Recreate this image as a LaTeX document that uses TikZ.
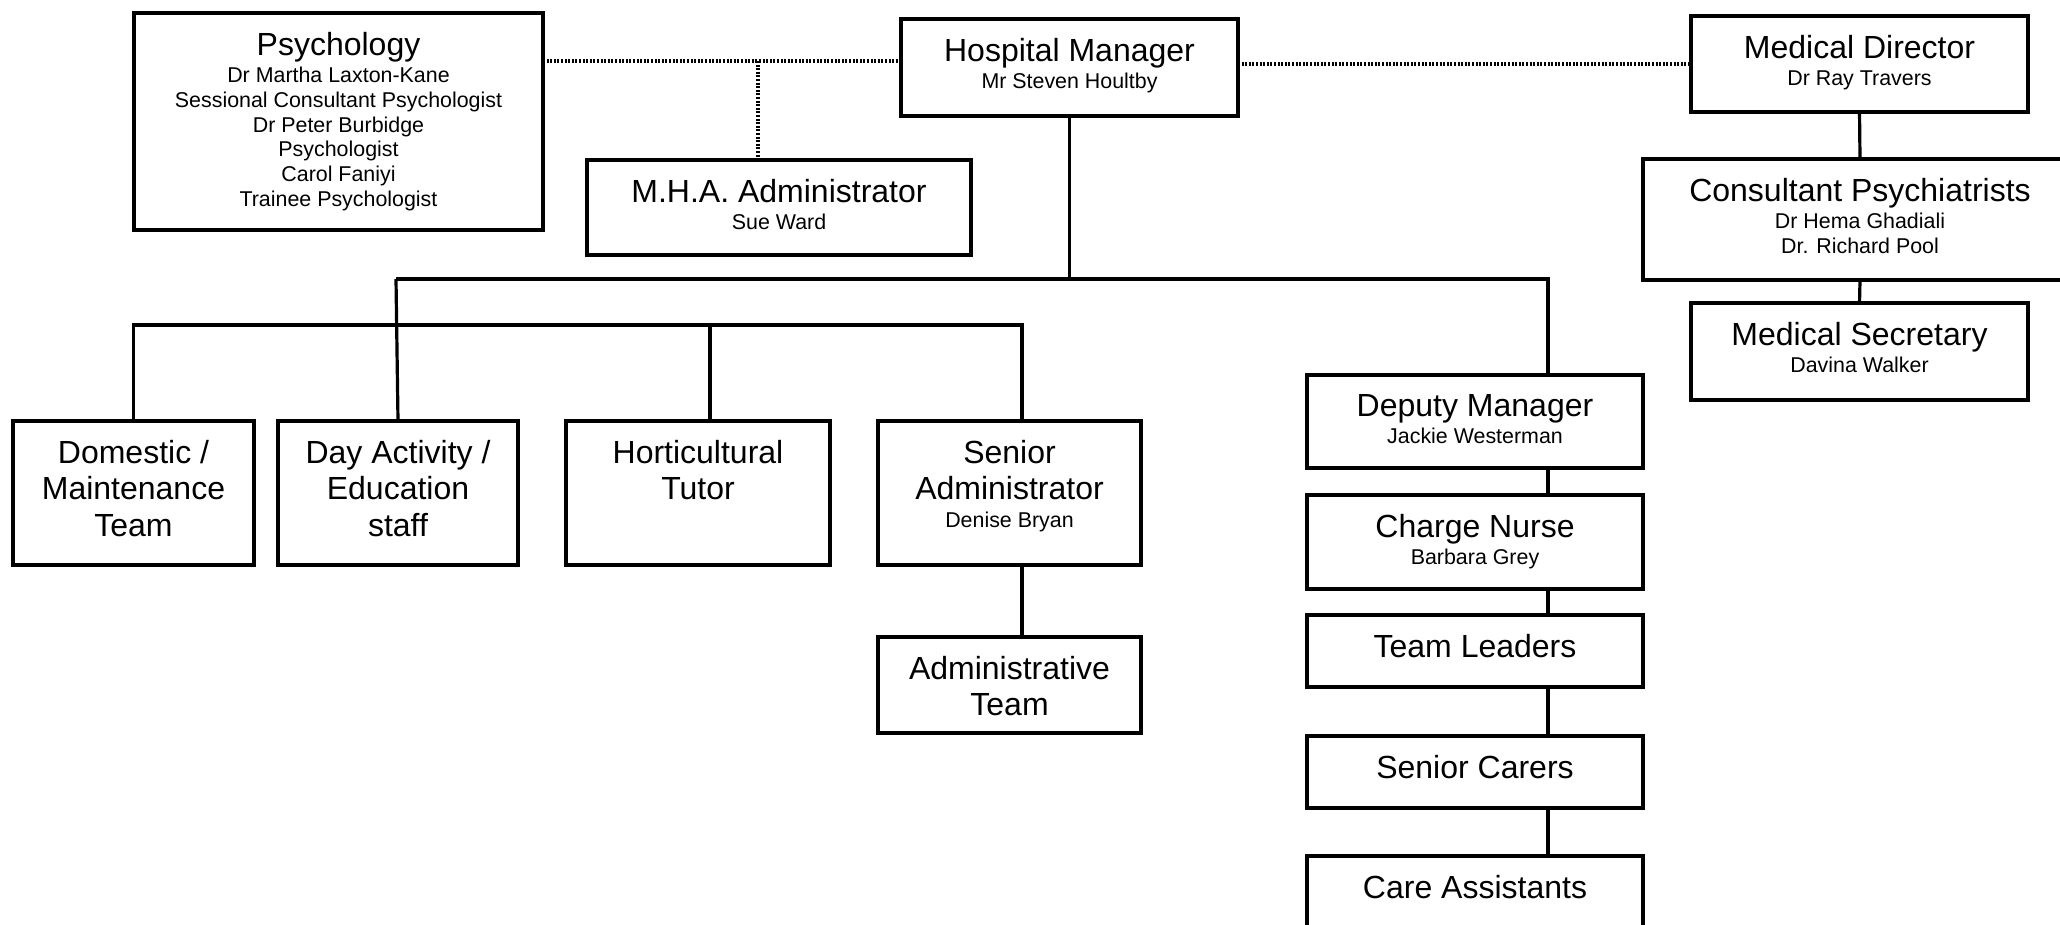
\documentclass[tikz,border=0pt]{standalone}
\usepackage{fontspec}
\setmainfont{Liberation Sans}
\usetikzlibrary{calc}
\newdimen\pxu \pxu=0.5pt
\newcommand{\role}[1]{{\fontsize{16pt}{18.4pt}\selectfont #1\par}}
\newcommand{\who}[1]{{\vspace{1.3pt}\fontsize{10.7pt}{12.4pt}\selectfont #1\par}}
\tikzset{
  unit/.style 2 args={draw,line width=1.7pt,inner sep=0pt,outer sep=0pt,anchor=north west,
    execute at begin node={\begin{minipage}[t][#2\pxu][t]{#1\pxu}\vspace{9.5pt}\centering},
    execute at end node={\end{minipage}}},
  link/.style={line width=1.6pt},
  dotlink/.style={line width=1.8pt,dash pattern=on 1pt off 0.8pt},
}

\begin{document}
\begin{tikzpicture}[x=0.5pt,y=-0.5pt]
  \useasboundingbox (0,0) rectangle (2060,925);
  \node[unit={409}{217}] (psych) at (134,13) {\role{Psychology}\who{Dr Martha Laxton-Kane\\Sessional Consultant Psychologist\\Dr Peter Burbidge\\Psychologist\\Carol Faniyi\\Trainee Psychologist}};
  \node[unit={337}{97}] (mgr) at (901,19) {\role{Hospital Manager}\who{Mr Steven Houltby}};
  \node[unit={384}{95}] (mha) at (587,160) {\role{M.H.A. Administrator}\who{Sue Ward}};
  \node[unit={337}{96}] (meddir) at (1691,16) {\role{Medical Director}\who{Dr Ray Travers}};
  \node[unit={434}{121}] (cons) at (1643,159) {\role{Consultant Psychiatrists}\who{Dr Hema Ghadiali\\Dr. Richard Pool}};
  \node[unit={337}{97}] (medsec) at (1691,303) {\role{Medical Secretary}\who{Davina Walker}};
  \node[unit={241}{144}] (dom) at (13,421) {\role{Domestic /\\Maintenance\\Team}};
  \node[unit={240}{144}] (day) at (278,421) {\role{Day Activity /\\Education\\staff}};
  \node[unit={264}{144}] (hort) at (566,421) {\role{Horticultural\\Tutor}};
  \node[unit={263}{144}] (sadm) at (878,421) {\role{Senior\\Administrator}\who{Denise Bryan}};
  \node[unit={263}{96}] (adteam) at (878,637) {\role{Administrative\\Team}};
  \node[unit={336}{93}] (dep) at (1307,375) {\role{Deputy Manager}\who{Jackie Westerman}};
  \node[unit={336}{94}] (charge) at (1307,495) {\role{Charge Nurse}\who{Barbara Grey}};
  \node[unit={336}{72}] (lead) at (1307,615) {\role{Team Leaders}};
  \node[unit={336}{72}] (scar) at (1307,736) {\role{Senior Carers}};
  \node[unit={336}{72}] (care) at (1307,856) {\role{Care Assistants}};

  \coordinate (tap) at (758,61);
  \draw[dotlink] (psych.east |- tap) -- (mgr.west |- tap);
  \draw[dotlink] (tap) -- (tap |- mha.north);
  \draw[dotlink] (mgr.east |- meddir.west) -- (meddir.west);

  \coordinate (barL) at (396,279); \coordinate (barR) at (1548,279);
  \coordinate (tapH) at (710,325); \coordinate (tapS) at (1022,325);
  \draw[link] (mgr.south) -- (mgr.south |- barL);
  \draw[link] (barL) -- (barR) -- (barR |- dep.north);
  \draw[link] (barL) -- (day.north);
  \draw[link] (dom.north) |- (tapS) -- (tapS |- sadm.north);
  \draw[link] (tapH) -- (tapH |- hort.north);
  \draw[link] (tapS |- sadm.south) -- (tapS |- adteam.north);
  \foreach \a/\b in {dep/charge,charge/lead,lead/scar,scar/care} \draw[link] (\a.south -| barR) -- (\b.north -| barR);
  \draw[link] (meddir.south) -- (cons.north);
  \draw[link] (cons.south) -- (medsec.north);
\end{tikzpicture}
\end{document}
